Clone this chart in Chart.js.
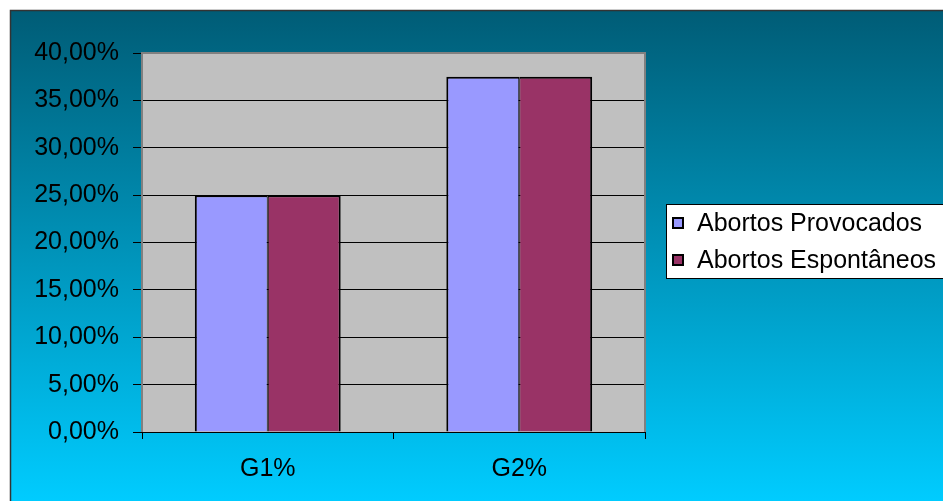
<!DOCTYPE html>
<html>
<head>
<meta charset="utf-8">
<script src="https://cdn.jsdelivr.net/npm/chart.js@4/dist/chart.umd.min.js"></script>
<style>
  body { margin: 0; background: #fff; }
  canvas { display: block; }
</style>
</head>
<body>
<canvas id="myChart" width="943" height="501"></canvas>
<script>
// Chart data
const categories = ['G1%', 'G2%'];
const seriesNames = ['Abortos Provocados', 'Abortos Espontâneos'];
const provocados = [0.25, 0.375];
const espontaneos = [0.25, 0.375];
const yMax = 0.4;
const yStep = 0.05;

const FONT = '"Liberation Sans", Arial, sans-serif';

// background gradient, plot area, borders and legend
const decor = {
    id: 'decor',
    beforeDraw(chart) {
        const ctx = chart.ctx;
        const a = chart.chartArea;
        ctx.save();
        const g = ctx.createLinearGradient(0, 10, 0, 501);
        g.addColorStop(0, '#005c76');
        g.addColorStop(1, '#00ccff');
        ctx.fillStyle = g;
        ctx.fillRect(10, 10, 940, 500);
        ctx.strokeStyle = '#333';
        ctx.lineWidth = 1.5;
        ctx.strokeRect(10.5, 10.5, 940, 500);
        ctx.fillStyle = '#c0c0c0';
        ctx.fillRect(a.left, a.top, a.right - a.left, a.bottom - a.top);
        ctx.restore();
    },
    afterDatasetsDraw(chart) {
        const ctx = chart.ctx;
        const a = chart.chartArea;
        ctx.save();
        ctx.strokeStyle = '#808080';
        ctx.lineWidth = 2;
        ctx.beginPath();
        ctx.moveTo(a.left, a.bottom);
        ctx.lineTo(a.left, a.top);
        ctx.lineTo(a.right, a.top);
        ctx.lineTo(a.right, a.bottom);
        ctx.stroke();
        ctx.strokeStyle = '#000';
        ctx.lineWidth = 1;
        ctx.beginPath();
        ctx.moveTo(a.left - 9, a.bottom + 0.5);
        ctx.lineTo(a.right, a.bottom + 0.5);
        ctx.stroke();

        // legend
        ctx.fillStyle = '#fff';
        ctx.fillRect(666, 204, 290, 74);
        ctx.strokeStyle = '#000';
        ctx.lineWidth = 1;
        ctx.strokeRect(666.5, 204.5, 290, 74);
        ctx.font = '25px ' + FONT;
        ctx.textBaseline = 'middle';
        chart.data.datasets.forEach((ds, i) => {
            const y = 223 + i * 37;
            ctx.fillStyle = ds.backgroundColor;
            ctx.fillRect(673, y - 5, 10, 10);
            ctx.lineWidth = 2;
            ctx.strokeRect(673, y - 5, 10, 10);
            ctx.fillStyle = '#000';
            ctx.fillText(ds.label, 697, y + 1);
        });
        ctx.restore();
    }
};

const ctx = document.getElementById('myChart').getContext('2d');
const chart = new Chart(ctx, {
    type: 'bar',
    data: {
        labels: categories,
        datasets: [{
            label: seriesNames[0],
            data: provocados,
            backgroundColor: '#9999ff',
            borderColor: '#000',
            borderWidth: { top: 2, left: 2, right: 1, bottom: 0 }
        }, {
            label: seriesNames[1],
            data: espontaneos,
            backgroundColor: '#993366',
            borderColor: '#000',
            borderWidth: { top: 2, left: 1, right: 2, bottom: 0 }
        }]
    },
    options: {
        responsive: false,
        animation: false,
        devicePixelRatio: 1,
        layout: { padding: { top: 53, right: 298, bottom: 0, left: 0 } },
        datasets: {
            bar: { categoryPercentage: 0.58, barPercentage: 1, borderSkipped: false }
        },
        plugins: {
            legend: { display: false },
            tooltip: { enabled: false }
        },
        scales: {
            y: {
                min: 0,
                max: yMax,
                afterFit(scale) { scale.width = 142; },
                ticks: {
                    stepSize: yStep,
                    padding: 14,
                    color: '#000',
                    font: { family: FONT, size: 25 },
                    callback: v => (v * 100).toFixed(2).replace('.', ',') + '%'
                },
                grid: { color: '#000', lineWidth: 1, tickLength: 9 },
                border: { display: false }
            },
            x: {
                afterFit(scale) { scale.height = 69; },
                ticks: {
                    padding: 15,
                    color: '#000',
                    font: { family: FONT, size: 25 }
                },
                grid: { drawOnChartArea: false, color: '#000', tickLength: 7, offset: true },
                border: { display: false }
            }
        }
    },
    plugins: [decor]
});
</script>
</body>
</html>
